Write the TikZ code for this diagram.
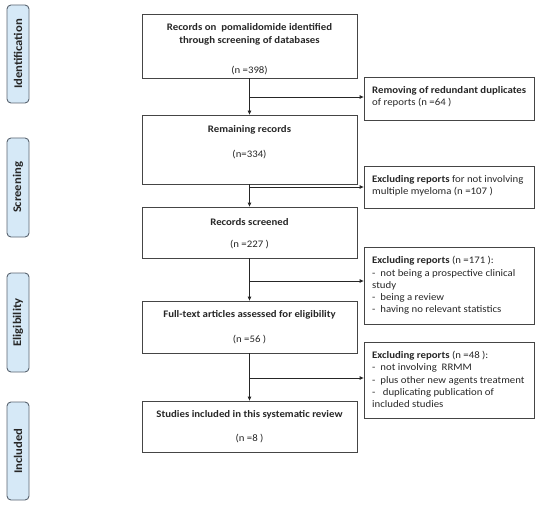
\documentclass[tikz,border=0pt]{standalone}
\usepackage{fontspec}
\setmainfont{Carlito}[FakeStretch=1.08]
\usetikzlibrary{arrows.meta}
\definecolor{sidefill}{HTML}{D6E9F7}
\definecolor{sidedraw}{HTML}{5A6470}
\definecolor{boxdraw}{HTML}{454545}
\definecolor{txt}{HTML}{262626}
\begin{document}
\begin{tikzpicture}[x=1pt,y=-1pt,
  txtfont/.style={font=\fontsize{10}{12.3}\selectfont, text=txt},
  mainbox/.style={draw=boxdraw, line width=0.8pt, minimum width=215pt, inner sep=0pt},
  maintitle/.style={text=txt, font=\fontsize{10}{13}\selectfont\bfseries, align=center, inner sep=0pt},
  maincount/.style={txtfont, inner sep=0pt},
  rbox/.style={draw=boxdraw, line width=0.8pt, minimum width=170pt, inner sep=0pt},
  rtext/.style={txtfont, align=left, anchor=west, inner sep=0pt},
  sidebox/.style={draw=sidedraw, fill=sidefill, line width=0.9pt, rounded corners=4pt, rotate=90,
    minimum height=22pt, inner sep=0pt, font=\fontsize{11.7}{13}\selectfont\bfseries, text=txt},
  arr/.style={draw=black!85, line width=0.8pt, -{Triangle[length=4pt,width=3.5pt]}}]
\useasboundingbox (0,0) rectangle (537,505);

% side labels
\node[sidebox, minimum width=98pt] (s1) at (18,54) {Identification};
\node[sidebox, minimum width=99pt] (s2) at (18,187.5) {Screening};
\node[sidebox, minimum width=99pt] (s3) at (18,322.5) {Eligibility};
\node[sidebox, minimum width=98pt] (s4) at (18,451) {Included};

% main boxes
\node[mainbox, minimum height=64pt] (b1) at (249.5,46) {};
\node[mainbox, minimum height=69pt] (b2) at (249.5,149.5) {};
\node[mainbox, minimum height=51pt] (b3) at (249.5,232.5) {};
\node[mainbox, minimum height=52pt] (b4) at (249.5,327) {};
\node[mainbox, minimum height=51pt] (b5) at (249.5,426.5) {};

\node[maintitle] (t1) at (249.5,34.5) {Records on~ pomalidomide identified\\through screening of databases};
\node[maincount] (n1) at (249.5,71) {(n =398)};
\node[maintitle] (t2) at (249.5,130) {Remaining records};
\node[maincount] (n2) at (249.5,155) {(n=334)};
\node[maintitle] (t3) at (249.5,222) {Records screened};
\node[maincount] (n3) at (249.5,245) {(n =227 )};
\node[maintitle] (t4) at (249.5,315) {Full-text articles assessed for eligibility};
\node[maincount] (n4) at (249.5,340) {(n =56 )};
\node[maintitle] (t5) at (249.5,415) {Studies included in this systematic review};
\node[maincount] (n5) at (249.5,439) {(n =8 )};

% right boxes
\node[rbox, minimum height=43pt] (r1) at (449,98.5) {};
\node[rbox, minimum height=42pt] (r2) at (449,187) {};
\node[rbox, minimum height=77pt] (r3) at (449,285.5) {};
\node[rbox, minimum height=76pt] (r4) at (449,380) {};

\node[rtext] (rt1) at (372,97) {\textbf{Removing of redundant duplicates}\\of reports (n =64 )};
\node[rtext] (rt2) at (372,185.5) {\textbf{Excluding reports} for not involving\\multiple myeloma (n =107 )};
\node[rtext] (rt3) at (372,285.5) {\textbf{Excluding reports} (n =171 ):\\-~ not being a prospective clinical\\study\\-~ being a review\\-~ having no relevant statistics};
\node[rtext] (rt4) at (372,379.5) {\textbf{Excluding reports} (n =48 ):\\-~ not involving~ RRMM\\-~ plus other new agents treatment\\-~~ duplicating publication of\\included studies};

% connectors
\draw[arr] (b1.south) -- (b2.north);
\draw[arr] (b2.south) -- (b3.north);
\draw[arr] (b3.south) -- (b4.north);
\draw[arr] (b4.south) -- (b5.north);

\coordinate (j1) at (249.5,97);
\coordinate (j2) at (249.5,187);
\coordinate (j3) at (249.5,281);
\coordinate (j4) at (249.5,378);
\draw[arr] (j1) -- (j1 -| r1.west);
\draw[arr] (j2) -- (j2 -| r2.west);
\draw[arr] (j3) -- (j3 -| r3.west);
\draw[arr] (j4) -- (j4 -| r4.west);
\end{tikzpicture}
\end{document}
